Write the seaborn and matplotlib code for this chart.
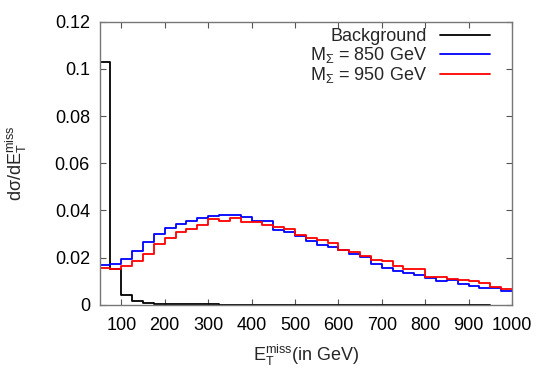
import numpy as np
import pandas as pd
import matplotlib
matplotlib.use('Agg')
import matplotlib.pyplot as plt
import seaborn as sns
from matplotlib.ticker import FuncFormatter

# bin edges (GeV), 25 GeV wide
sig_edges = list(range(25, 1001, 25))
bkg_edges = list(range(25, 951, 25))

# dsigma/dE values per bin
bkg = [0.15, 0.103, 0.0150, 0.0041, 0.0016, 0.0006, 0.0003, 0.0002,
       0.0001, 0.0001, 0.0001, 0.0001, 0.00005, 0.00005, 0.00005, 0.00005,
       0.00003, 0.00003, 0.00003, 0.00003, 0.00002, 0.00002, 0.00002, 0.00002,
       0.00001, 0.00001, 0.00001, 0.00001, 0.00001, 0.00001, 0.00001, 0.00001,
       0.00001, 0.00001, 0.00001, 0.00001, 0.00001]
m850 = [0.0210, 0.0168, 0.0172, 0.0193, 0.0229, 0.0267, 0.0300, 0.0324,
        0.0342, 0.0356, 0.0366, 0.0377, 0.0380, 0.0380, 0.0370, 0.0356,
        0.0353, 0.0317, 0.0310, 0.0293, 0.0270, 0.0253, 0.0243, 0.0232,
        0.0214, 0.0201, 0.0171, 0.0154, 0.0144, 0.0136, 0.0126, 0.0112,
        0.0102, 0.0105, 0.0088, 0.0079, 0.0069, 0.0069, 0.0059]
m950 = [0.0197, 0.0154, 0.0150, 0.0164, 0.0187, 0.0215, 0.0257, 0.0281,
        0.0310, 0.0320, 0.0338, 0.0363, 0.0356, 0.0366, 0.0349, 0.0352,
        0.0338, 0.0330, 0.0321, 0.0296, 0.0281, 0.0274, 0.0260, 0.0232,
        0.0222, 0.0206, 0.0190, 0.0185, 0.0164, 0.0150, 0.0150, 0.0119,
        0.0116, 0.0109, 0.0105, 0.0102, 0.0093, 0.0076, 0.0067]

labels = ['Background', r'M$_{\mathrm{\Sigma}}$ = 850 GeV', r'M$_{\mathrm{\Sigma}}$ = 950 GeV']
colors = ['#000000', '#0000ff', '#ff0000']

# long form table, last value repeated so steps-post reaches the final edge
rows = []
for lab, edges, vals in zip(labels, [bkg_edges[:len(bkg) + 1], sig_edges, sig_edges], [bkg, m850, m950]):
    ys = vals + [vals[-1]]
    for e, v in zip(edges, ys):
        rows.append({'E': e, 'val': v, 'series': lab})
df = pd.DataFrame(rows)

sns.set_style('ticks')
plt.rcParams['font.family'] = ['Liberation Sans', 'DejaVu Sans']
plt.rcParams['mathtext.fontset'] = 'custom'
plt.rcParams['mathtext.rm'] = 'Liberation Sans'
plt.rcParams['mathtext.it'] = 'Liberation Sans:italic'
plt.rcParams['mathtext.bf'] = 'Liberation Sans:bold'

fs = 13
fig = plt.figure(figsize=(5.45, 3.82), dpi=100)
ax = fig.add_axes([0.1828, 0.2024, 0.7566, 0.7408])

sns.lineplot(data=df, x='E', y='val', hue='series', hue_order=labels,
             palette=colors, drawstyle='steps-post', estimator=None,
             sort=False, lw=1.3, legend=False, ax=ax)

ax.set_xlim(50, 1000)
ax.set_ylim(0, 0.12)
ax.set_xticks(range(100, 1001, 100))
ax.set_yticks(np.arange(0, 0.121, 0.02))
ax.yaxis.set_major_formatter(FuncFormatter(lambda v, p: '%g' % round(v, 3)))

for s in ax.spines.values():
    s.set_color('#777777')
    s.set_linewidth(1.0)
ax.tick_params(direction='in', length=4, width=0.8, color='#555555',
               top=True, right=True, labelsize=fs, labelcolor='black')
ax.tick_params(axis='x', pad=9)
ax.tick_params(axis='y', pad=7)

ax.set_xlabel(r'$\mathrm{E_T^{miss}}$(in GeV)', fontsize=fs, labelpad=6)
ax.set_ylabel('dσ/d$\\mathrm{E_T^{miss}}$', fontsize=fs)
ax.yaxis.set_label_coords(-0.172, 0.5)

handles = ax.lines[:3]
ax.legend(handles, labels, loc='upper right', bbox_to_anchor=(0.947, 0.978),
          frameon=False, markerfirst=False, fontsize=fs, handlelength=2.8,
          handletextpad=0.7, labelspacing=0.0, borderpad=0, borderaxespad=0)

fig.savefig('out.png', dpi=100)
